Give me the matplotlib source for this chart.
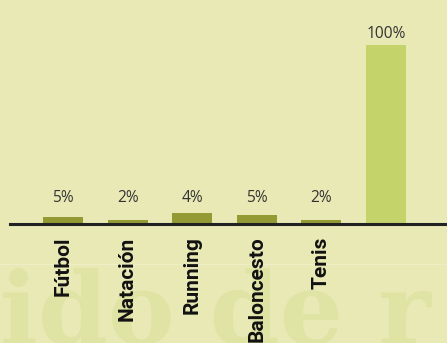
import matplotlib
matplotlib.use("Agg")
import matplotlib.pyplot as plt

categories = ["Fútbol", "Natación", "Running", "Baloncesto", "Tenis", ""]
values = [3.9, 2.2, 6.2, 5.1, 2.2, 100]
value_labels = ["5%", "2%", "4%", "5%", "2%", "100%"]

BG = "#e9e9b6"
OLIVE = "#949a33"
LIGHT = "#c5d46a"
WM = "#dfe3a3"

W, H = 447, 343
fig = plt.figure(figsize=(W / 100, H / 100), dpi=100, facecolor=BG)

# background layer with watermark decoration
bg = fig.add_axes([0, 0, 1, 1])
bg.set_axis_off()
bg.set_xlim(0, W)
bg.set_ylim(H, 0)
bg.set_zorder(0)
bg.text(0, 344, "ido de r", fontsize=72, fontweight="bold",
        family="DejaVu Serif", color=WM, va="baseline", ha="left")
bg.text(-5, 397, "ca oca  ea", fontsize=72, fontweight="bold",
        family="DejaVu Serif", color=WM, va="baseline", ha="left")
bg.axhline(263.5, color="#eeeec6", lw=0.8)

ax_left = 10 / W
ax_bottom = 1 - 224 / H
ax = fig.add_axes([ax_left, ax_bottom, 1 - ax_left, 1 - ax_bottom])
ax.set_facecolor("none")
ax.set_zorder(2)

x = list(range(len(categories)))
colors = [OLIVE] * 5 + [LIGHT]
ax.bar(x, values, width=0.62, color=colors, zorder=2)

step = (386 - 63) / 5
ax.set_xlim(-(63 - 10) / step, 5 + (447 - 386) / step)
ax.set_ylim(0, 224 / 179 * 100)

for xi, v, lab in zip(x, values, value_labels):
    ax.text(xi, max(v, 8.4) + 3.7, lab, ha="center", va="baseline",
            fontsize=11.2, family="Open Sans", color="#333333")

for s in ["top", "right", "left"]:
    ax.spines[s].set_visible(False)
ax.spines["bottom"].set_linewidth(2.2)
ax.spines["bottom"].set_color("#222222")
ax.spines["bottom"].set_zorder(3)
ax.set_yticks([])
ax.set_xticks(x)
ax.set_xticklabels(categories, rotation=90, fontsize=15, fontweight="bold",
                   family=["Roboto", "DejaVu Sans"],
                   color="#111111", va="top", ha="center")
ax.tick_params(axis="x", length=0, pad=9)

fig.savefig("out.png", dpi=100, facecolor=BG)
